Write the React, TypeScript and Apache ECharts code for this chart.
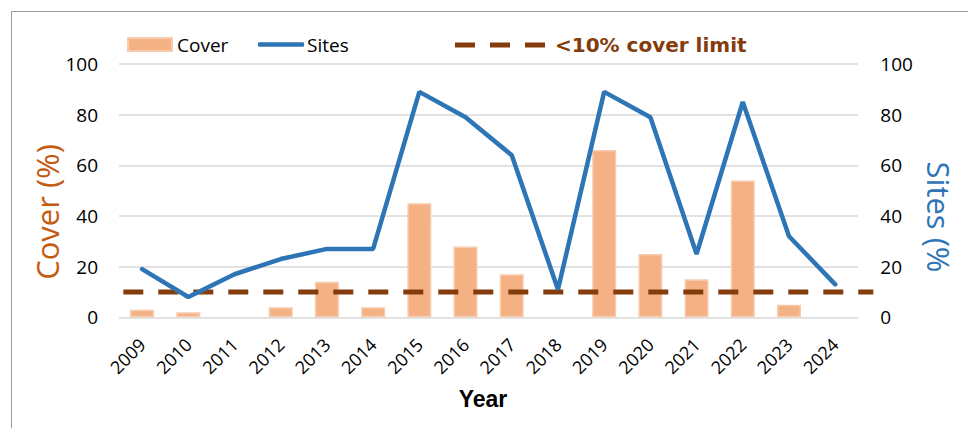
import React, { useEffect, useRef } from "react";
import * as echarts from "echarts";

const years = ["2009", "2010", "2011", "2012", "2013", "2014", "2015", "2016", "2017", "2018", "2019", "2020", "2021", "2022", "2023", "2024"];
const coverValues = [3, 2, 0, 4, 14, 4, 45, 28, 17, 0, 66, 25, 15, 54, 5, 0];
const sitesValues = [19, 8, 17, 23, 27, 27, 89, 79, 64, 11, 89, 79, 25, 85, 32, 13];
const limitValues = [10, 10];
const limitX = [0, 1];

const TICK_FONT = "'Open Sans', 'Noto Sans', sans-serif";

export default function App() {
  const ref = useRef<HTMLDivElement>(null);
  useEffect(() => {
    if (!ref.current) return;
    const chart = echarts.init(ref.current, null, { renderer: "svg" });
    const tickLabel = { fontSize: 19, fontFamily: TICK_FONT, color: "#000" };
    chart.setOption({
      animation: false,
      backgroundColor: "#fff",
      grid: [
        { left: 119, right: 109.7, top: 64, bottom: 110.7 },
        { left: 123.3, right: 94.7, top: 64, bottom: 110.7 },
      ],
      xAxis: [
        {
          type: "category",
          gridIndex: 0,
          data: years,
          axisLine: { show: false },
          axisTick: { show: false },
          axisLabel: { rotate: 45, interval: 0, margin: 24, fontSize: 18, fontFamily: TICK_FONT, color: "#000" },
        },
        { type: "value", gridIndex: 1, min: 0, max: 1, show: false },
      ],
      yAxis: [
        {
          type: "value",
          gridIndex: 0,
          min: 0,
          max: 100,
          interval: 20,
          axisLine: { show: false },
          axisTick: { show: false },
          axisLabel: { ...tickLabel, margin: 21 },
          splitLine: { lineStyle: { color: "#D9D9D9", width: 1.5 } },
        },
        {
          type: "value",
          gridIndex: 0,
          position: "right",
          min: 0,
          max: 100,
          interval: 20,
          axisLine: { show: false },
          axisTick: { show: false },
          axisLabel: { ...tickLabel, margin: 22 },
          splitLine: { show: false },
        },
        { type: "value", gridIndex: 1, min: 0, max: 100, show: false },
      ],
      legend: [
        {
          data: [{ name: "Cover", icon: "rect" }],
          left: 127,
          top: 35,
          padding: 0,
          itemWidth: 44,
          itemHeight: 13,
          textStyle: { fontSize: 19, fontFamily: TICK_FONT, color: "#000" },
        },
        {
          data: [{ name: "Sites", icon: "roundRect" }],
          left: 258,
          top: 35,
          padding: 0,
          itemWidth: 46,
          itemHeight: 4.5,
          textStyle: { fontSize: 19, fontFamily: TICK_FONT, color: "#000", padding: [0, 0, 0, -2] },
        },
        {
          data: [{ name: "<10% cover limit", icon: "path://M0,0h20v5h-20zM35,0h20v5h-20zM70,0h20v5h-20z" }],
          left: 455,
          top: 35,
          padding: 0,
          itemWidth: 90,
          itemHeight: 5,
          textStyle: {
            fontSize: 20,
            fontFamily: "'DejaVu Sans', sans-serif",
            fontWeight: "bold",
            color: "#843C0C",
            padding: [0, 0, 0, 5],
          },
        },
      ],
      graphic: [
        {
          type: "rect",
          silent: true,
          shape: { x: 11.5, y: 11.5, width: 2000, height: 2000 },
          style: { fill: "none", stroke: "#9A9A9A", lineWidth: 1 },
        },
        {
          type: "text",
          x: 47,
          y: 212,
          rotation: Math.PI / 2,
          style: {
            text: "Cover (%)",
            fontSize: 31,
            fontFamily: TICK_FONT,
            fill: "#C55A11",
            align: "center",
            verticalAlign: "middle",
          },
        },
        {
          type: "text",
          x: 939,
          y: 217,
          rotation: -Math.PI / 2,
          style: {
            text: "Sites (%",
            fontSize: 31,
            fontFamily: TICK_FONT,
            fill: "#2E75B6",
            align: "center",
            verticalAlign: "middle",
          },
        },
        {
          type: "text",
          x: 483,
          y: 399,
          style: {
            text: "Year",
            fontSize: 23,
            fontFamily: "'Liberation Sans', Arial, sans-serif",
            fontWeight: "bold",
            fill: "#000",
            align: "center",
            verticalAlign: "middle",
          },
        },
      ],
      series: [
        {
          name: "Cover",
          type: "bar",
          xAxisIndex: 0,
          yAxisIndex: 0,
          data: coverValues.map((v) => (v === 0 ? { value: v, itemStyle: { borderWidth: 0, opacity: 0 } } : v)),
          barWidth: "52%",
          itemStyle: { color: "#F4B183", borderColor: "#F8CBAD", borderWidth: 1.5 },
        },
        {
          name: "<10% cover limit",
          type: "line",
          xAxisIndex: 1,
          yAxisIndex: 2,
          data: limitX.map((x, i) => [x, limitValues[i]]),
          symbol: "none",
          lineStyle: { color: "#843C0C", width: 5, type: [20, 15], cap: "butt" },
          itemStyle: { color: "#843C0C" },
        },
        {
          name: "Sites",
          type: "line",
          xAxisIndex: 0,
          yAxisIndex: 1,
          data: sitesValues,
          symbol: "none",
          lineStyle: { color: "#2E75B6", width: 4.5, cap: "round" },
          itemStyle: { color: "#2E75B6" },
        },
      ],
    });
    return () => chart.dispose();
  }, []);
  return <div ref={ref} style={{ position: "fixed", left: 0, top: 0, width: 968, height: 428 }} />;
}
